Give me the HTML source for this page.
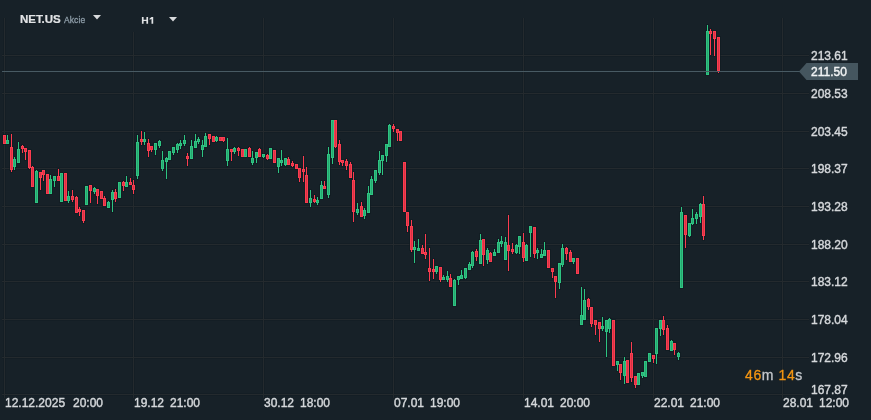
<!DOCTYPE html>
<html><head><meta charset="utf-8"><style>
html,body{margin:0;padding:0;}
.pl,.tl,.hdr{will-change:transform;}
body{width:871px;height:420px;overflow:hidden;background:#172128;position:relative;font-family:"Liberation Sans",sans-serif;}
.pl{position:absolute;left:811px;font-size:12px;line-height:16px;color:#d5d8db;white-space:nowrap;-webkit-text-stroke:0.4px #d5d8db;}
.pl.cur{color:#f2f4f5;-webkit-text-stroke:0.4px #f2f4f5;}
.tl{position:absolute;top:395px;font-size:12px;line-height:16px;color:#d5d8db;white-space:nowrap;-webkit-text-stroke:0.4px #d5d8db;}
.tm{margin-left:7px;}
.hdr{position:absolute;white-space:nowrap;}
</style></head><body>
<svg width="871" height="420" viewBox="0 0 871 420" style="position:absolute;left:0;top:0" shape-rendering="crispEdges">
<rect x="3" y="18" width="3" height="380" fill="#111c22" opacity="0.5"/><rect x="132" y="18" width="3" height="380" fill="#111c22" opacity="0.5"/><rect x="262" y="18" width="3" height="380" fill="#111c22" opacity="0.5"/><rect x="392" y="18" width="3" height="380" fill="#111c22" opacity="0.5"/><rect x="522" y="18" width="3" height="380" fill="#111c22" opacity="0.5"/><rect x="652" y="18" width="3" height="380" fill="#111c22" opacity="0.5"/><rect x="781" y="18" width="3" height="380" fill="#111c22" opacity="0.5"/><rect x="2" y="54" width="807" height="3" fill="#111c22" opacity="0.5"/><rect x="2" y="92" width="807" height="3" fill="#111c22" opacity="0.5"/><rect x="2" y="130" width="807" height="3" fill="#111c22" opacity="0.5"/><rect x="2" y="167" width="807" height="3" fill="#111c22" opacity="0.5"/><rect x="2" y="205" width="807" height="3" fill="#111c22" opacity="0.5"/><rect x="2" y="243" width="807" height="3" fill="#111c22" opacity="0.5"/><rect x="2" y="280" width="807" height="3" fill="#111c22" opacity="0.5"/><rect x="2" y="318" width="807" height="3" fill="#111c22" opacity="0.5"/><rect x="2" y="356" width="807" height="3" fill="#111c22" opacity="0.5"/><rect x="2" y="393" width="801" height="3" fill="#111c22" opacity="0.5"/><rect x="4" y="18" width="1" height="380" fill="#242a2e"/><rect x="133" y="18" width="1" height="380" fill="#242a2e"/><rect x="263" y="18" width="1" height="380" fill="#242a2e"/><rect x="393" y="18" width="1" height="380" fill="#242a2e"/><rect x="523" y="18" width="1" height="380" fill="#242a2e"/><rect x="653" y="18" width="1" height="380" fill="#242a2e"/><rect x="782" y="18" width="1" height="380" fill="#242a2e"/><rect x="2" y="55" width="807" height="1" fill="#242a2e"/><rect x="2" y="93" width="807" height="1" fill="#242a2e"/><rect x="2" y="131" width="807" height="1" fill="#242a2e"/><rect x="2" y="168" width="807" height="1" fill="#242a2e"/><rect x="2" y="206" width="807" height="1" fill="#242a2e"/><rect x="2" y="244" width="807" height="1" fill="#242a2e"/><rect x="2" y="281" width="807" height="1" fill="#242a2e"/><rect x="2" y="319" width="807" height="1" fill="#242a2e"/><rect x="2" y="357" width="807" height="1" fill="#242a2e"/><rect x="2" y="394" width="801" height="1" fill="#242a2e"/>
<rect x="10" y="0" width="180" height="32" fill="#172128"/>
<g fill="#0f1b21" opacity="0.6"><rect x="2" y="134" width="5" height="11"/><rect x="3" y="134" width="3" height="11"/><rect x="5" y="139" width="5" height="6"/><rect x="6" y="134" width="3" height="11"/><rect x="9" y="146" width="5" height="25"/><rect x="10" y="133" width="3" height="40"/><rect x="12" y="158" width="5" height="10"/><rect x="13" y="156" width="3" height="15"/><rect x="16" y="148" width="5" height="16"/><rect x="17" y="141" width="3" height="23"/><rect x="20" y="145" width="5" height="5"/><rect x="21" y="144" width="3" height="10"/><rect x="23" y="147" width="5" height="6"/><rect x="24" y="147" width="3" height="14"/><rect x="27" y="149" width="5" height="20"/><rect x="28" y="149" width="3" height="21"/><rect x="30" y="166" width="5" height="22"/><rect x="31" y="165" width="3" height="23"/><rect x="34" y="170" width="5" height="34"/><rect x="35" y="169" width="3" height="35"/><rect x="38" y="171" width="5" height="8"/><rect x="39" y="171" width="3" height="20"/><rect x="41" y="169" width="5" height="7"/><rect x="42" y="169" width="3" height="13"/><rect x="45" y="173" width="5" height="22"/><rect x="46" y="173" width="3" height="22"/><rect x="48" y="178" width="5" height="17"/><rect x="49" y="174" width="3" height="21"/><rect x="52" y="175" width="5" height="7"/><rect x="53" y="175" width="3" height="13"/><rect x="56" y="175" width="5" height="7"/><rect x="57" y="168" width="3" height="14"/><rect x="59" y="172" width="5" height="31"/><rect x="60" y="172" width="3" height="31"/><rect x="63" y="172" width="5" height="30"/><rect x="64" y="172" width="3" height="30"/><rect x="66" y="195" width="5" height="7"/><rect x="67" y="190" width="3" height="14"/><rect x="70" y="195" width="5" height="6"/><rect x="71" y="189" width="3" height="14"/><rect x="74" y="196" width="5" height="18"/><rect x="75" y="195" width="3" height="19"/><rect x="77" y="208" width="5" height="5"/><rect x="78" y="206" width="3" height="11"/><rect x="81" y="209" width="5" height="13"/><rect x="82" y="209" width="3" height="15"/><rect x="84" y="185" width="5" height="21"/><rect x="85" y="185" width="3" height="21"/><rect x="88" y="184" width="5" height="8"/><rect x="89" y="184" width="3" height="20"/><rect x="92" y="187" width="5" height="6"/><rect x="93" y="186" width="3" height="9"/><rect x="95" y="188" width="5" height="9"/><rect x="96" y="188" width="3" height="17"/><rect x="99" y="190" width="5" height="10"/><rect x="100" y="190" width="3" height="10"/><rect x="102" y="197" width="5" height="10"/><rect x="103" y="195" width="3" height="12"/><rect x="106" y="201" width="5" height="8"/><rect x="107" y="200" width="3" height="9"/><rect x="110" y="191" width="5" height="10"/><rect x="111" y="189" width="3" height="24"/><rect x="113" y="191" width="5" height="9"/><rect x="114" y="188" width="3" height="15"/><rect x="117" y="181" width="5" height="18"/><rect x="118" y="181" width="3" height="18"/><rect x="121" y="181" width="5" height="6"/><rect x="122" y="180" width="3" height="12"/><rect x="124" y="181" width="5" height="7"/><rect x="125" y="175" width="3" height="13"/><rect x="128" y="181" width="5" height="5"/><rect x="129" y="177" width="3" height="9"/><rect x="131" y="184" width="5" height="7"/><rect x="132" y="179" width="3" height="16"/><rect x="135" y="141" width="5" height="36"/><rect x="136" y="134" width="3" height="46"/><rect x="139" y="138" width="5" height="5"/><rect x="140" y="130" width="3" height="16"/><rect x="142" y="138" width="5" height="5"/><rect x="143" y="131" width="3" height="15"/><rect x="146" y="142" width="5" height="10"/><rect x="147" y="138" width="3" height="20"/><rect x="149" y="145" width="5" height="6"/><rect x="150" y="145" width="3" height="8"/><rect x="153" y="142" width="5" height="9"/><rect x="154" y="142" width="3" height="14"/><rect x="157" y="140" width="5" height="7"/><rect x="158" y="139" width="3" height="10"/><rect x="160" y="159" width="5" height="11"/><rect x="161" y="150" width="3" height="22"/><rect x="164" y="157" width="5" height="6"/><rect x="165" y="156" width="3" height="24"/><rect x="167" y="150" width="5" height="11"/><rect x="168" y="150" width="3" height="11"/><rect x="171" y="146" width="5" height="8"/><rect x="172" y="146" width="3" height="10"/><rect x="175" y="143" width="5" height="8"/><rect x="176" y="142" width="3" height="12"/><rect x="178" y="142" width="5" height="5"/><rect x="179" y="139" width="3" height="11"/><rect x="182" y="139" width="5" height="6"/><rect x="183" y="134" width="3" height="13"/><rect x="185" y="155" width="5" height="5"/><rect x="186" y="152" width="3" height="15"/><rect x="189" y="145" width="5" height="15"/><rect x="190" y="139" width="3" height="21"/><rect x="193" y="140" width="5" height="9"/><rect x="194" y="133" width="3" height="16"/><rect x="196" y="138" width="5" height="5"/><rect x="197" y="136" width="3" height="9"/><rect x="200" y="144" width="5" height="7"/><rect x="201" y="139" width="3" height="19"/><rect x="203" y="135" width="5" height="13"/><rect x="204" y="132" width="3" height="16"/><rect x="207" y="133" width="5" height="7"/><rect x="208" y="133" width="3" height="13"/><rect x="211" y="135" width="5" height="8"/><rect x="212" y="135" width="3" height="8"/><rect x="214" y="136" width="5" height="6"/><rect x="215" y="135" width="3" height="8"/><rect x="218" y="136" width="5" height="6"/><rect x="219" y="136" width="3" height="6"/><rect x="221" y="136" width="5" height="6"/><rect x="222" y="136" width="3" height="7"/><rect x="225" y="148" width="5" height="14"/><rect x="226" y="137" width="3" height="30"/><rect x="229" y="148" width="5" height="5"/><rect x="230" y="148" width="3" height="14"/><rect x="232" y="147" width="5" height="6"/><rect x="233" y="146" width="3" height="9"/><rect x="236" y="147" width="5" height="5"/><rect x="237" y="146" width="3" height="11"/><rect x="240" y="148" width="5" height="10"/><rect x="241" y="148" width="3" height="10"/><rect x="243" y="148" width="5" height="10"/><rect x="244" y="148" width="3" height="10"/><rect x="247" y="147" width="5" height="11"/><rect x="248" y="146" width="3" height="12"/><rect x="250" y="157" width="5" height="7"/><rect x="251" y="150" width="3" height="16"/><rect x="254" y="151" width="5" height="8"/><rect x="255" y="151" width="3" height="13"/><rect x="257" y="148" width="5" height="10"/><rect x="258" y="147" width="3" height="11"/><rect x="261" y="153" width="5" height="5"/><rect x="262" y="153" width="3" height="6"/><rect x="265" y="154" width="5" height="6"/><rect x="266" y="153" width="3" height="8"/><rect x="268" y="147" width="5" height="13"/><rect x="269" y="147" width="3" height="13"/><rect x="272" y="149" width="5" height="15"/><rect x="273" y="149" width="3" height="15"/><rect x="276" y="157" width="5" height="11"/><rect x="277" y="157" width="3" height="17"/><rect x="279" y="159" width="5" height="5"/><rect x="280" y="149" width="3" height="18"/><rect x="283" y="157" width="5" height="9"/><rect x="284" y="157" width="3" height="10"/><rect x="286" y="158" width="5" height="8"/><rect x="287" y="156" width="3" height="10"/><rect x="290" y="162" width="5" height="5"/><rect x="291" y="160" width="3" height="8"/><rect x="294" y="163" width="5" height="7"/><rect x="295" y="163" width="3" height="7"/><rect x="297" y="167" width="5" height="12"/><rect x="298" y="167" width="3" height="16"/><rect x="301" y="168" width="5" height="5"/><rect x="302" y="155" width="3" height="28"/><rect x="304" y="174" width="5" height="30"/><rect x="305" y="166" width="3" height="38"/><rect x="308" y="197" width="5" height="7"/><rect x="309" y="189" width="3" height="19"/><rect x="312" y="198" width="5" height="5"/><rect x="313" y="194" width="3" height="10"/><rect x="315" y="199" width="5" height="5"/><rect x="316" y="196" width="3" height="10"/><rect x="319" y="184" width="5" height="16"/><rect x="320" y="180" width="3" height="20"/><rect x="322" y="185" width="5" height="5"/><rect x="323" y="180" width="3" height="10"/><rect x="326" y="153" width="5" height="43"/><rect x="327" y="146" width="3" height="53"/><rect x="330" y="119" width="5" height="40"/><rect x="331" y="119" width="3" height="46"/><rect x="333" y="119" width="5" height="29"/><rect x="334" y="119" width="3" height="30"/><rect x="337" y="143" width="5" height="20"/><rect x="338" y="139" width="3" height="27"/><rect x="340" y="159" width="5" height="5"/><rect x="341" y="159" width="3" height="8"/><rect x="344" y="160" width="5" height="7"/><rect x="345" y="158" width="3" height="13"/><rect x="348" y="163" width="5" height="16"/><rect x="349" y="161" width="3" height="18"/><rect x="351" y="179" width="5" height="34"/><rect x="352" y="171" width="3" height="52"/><rect x="355" y="208" width="5" height="6"/><rect x="356" y="202" width="3" height="14"/><rect x="359" y="205" width="5" height="13"/><rect x="360" y="201" width="3" height="17"/><rect x="362" y="209" width="5" height="8"/><rect x="363" y="207" width="3" height="13"/><rect x="366" y="192" width="5" height="22"/><rect x="367" y="185" width="3" height="29"/><rect x="369" y="178" width="5" height="18"/><rect x="370" y="175" width="3" height="21"/><rect x="373" y="169" width="5" height="13"/><rect x="374" y="169" width="3" height="15"/><rect x="377" y="159" width="5" height="15"/><rect x="378" y="150" width="3" height="26"/><rect x="380" y="154" width="5" height="8"/><rect x="381" y="154" width="3" height="22"/><rect x="384" y="143" width="5" height="14"/><rect x="385" y="143" width="3" height="20"/><rect x="387" y="124" width="5" height="24"/><rect x="388" y="123" width="3" height="25"/><rect x="391" y="125" width="5" height="5"/><rect x="392" y="123" width="3" height="10"/><rect x="395" y="128" width="5" height="6"/><rect x="396" y="128" width="3" height="14"/><rect x="398" y="130" width="5" height="12"/><rect x="399" y="130" width="3" height="12"/><rect x="402" y="161" width="5" height="52"/><rect x="403" y="161" width="3" height="52"/><rect x="405" y="211" width="5" height="16"/><rect x="406" y="211" width="3" height="22"/><rect x="409" y="225" width="5" height="26"/><rect x="410" y="219" width="3" height="34"/><rect x="412" y="246" width="5" height="5"/><rect x="413" y="240" width="3" height="24"/><rect x="416" y="247" width="5" height="5"/><rect x="417" y="238" width="3" height="14"/><rect x="420" y="247" width="5" height="8"/><rect x="421" y="244" width="3" height="11"/><rect x="423" y="251" width="5" height="5"/><rect x="424" y="233" width="3" height="27"/><rect x="427" y="267" width="5" height="6"/><rect x="428" y="247" width="3" height="35"/><rect x="431" y="268" width="5" height="5"/><rect x="432" y="258" width="3" height="22"/><rect x="434" y="265" width="5" height="8"/><rect x="435" y="265" width="3" height="10"/><rect x="438" y="266" width="5" height="15"/><rect x="439" y="266" width="3" height="17"/><rect x="441" y="276" width="5" height="5"/><rect x="442" y="274" width="3" height="7"/><rect x="445" y="275" width="5" height="6"/><rect x="446" y="270" width="3" height="13"/><rect x="448" y="277" width="5" height="11"/><rect x="449" y="273" width="3" height="15"/><rect x="452" y="279" width="5" height="28"/><rect x="453" y="278" width="3" height="29"/><rect x="456" y="275" width="5" height="6"/><rect x="457" y="275" width="3" height="11"/><rect x="459" y="274" width="5" height="6"/><rect x="460" y="269" width="3" height="11"/><rect x="463" y="267" width="5" height="12"/><rect x="464" y="267" width="3" height="13"/><rect x="467" y="263" width="5" height="8"/><rect x="468" y="261" width="3" height="10"/><rect x="470" y="251" width="5" height="16"/><rect x="471" y="250" width="3" height="19"/><rect x="474" y="250" width="5" height="8"/><rect x="475" y="248" width="3" height="14"/><rect x="478" y="239" width="5" height="26"/><rect x="479" y="233" width="3" height="32"/><rect x="481" y="238" width="5" height="18"/><rect x="482" y="238" width="3" height="29"/><rect x="485" y="249" width="5" height="12"/><rect x="486" y="247" width="3" height="18"/><rect x="488" y="252" width="5" height="11"/><rect x="489" y="251" width="3" height="12"/><rect x="492" y="251" width="5" height="6"/><rect x="493" y="248" width="3" height="9"/><rect x="496" y="241" width="5" height="13"/><rect x="497" y="238" width="3" height="16"/><rect x="499" y="240" width="5" height="5"/><rect x="500" y="235" width="3" height="13"/><rect x="503" y="241" width="5" height="20"/><rect x="504" y="236" width="3" height="25"/><rect x="506" y="244" width="5" height="8"/><rect x="507" y="214" width="3" height="58"/><rect x="510" y="248" width="5" height="5"/><rect x="511" y="242" width="3" height="13"/><rect x="514" y="244" width="5" height="10"/><rect x="515" y="243" width="3" height="12"/><rect x="517" y="235" width="5" height="13"/><rect x="518" y="235" width="3" height="20"/><rect x="521" y="241" width="5" height="18"/><rect x="522" y="232" width="3" height="31"/><rect x="524" y="244" width="5" height="18"/><rect x="525" y="243" width="3" height="19"/><rect x="528" y="225" width="5" height="9"/><rect x="529" y="225" width="3" height="33"/><rect x="532" y="226" width="5" height="29"/><rect x="533" y="226" width="3" height="33"/><rect x="535" y="249" width="5" height="5"/><rect x="536" y="247" width="3" height="13"/><rect x="539" y="253" width="5" height="6"/><rect x="540" y="248" width="3" height="11"/><rect x="542" y="249" width="5" height="8"/><rect x="543" y="241" width="3" height="16"/><rect x="546" y="249" width="5" height="20"/><rect x="547" y="249" width="3" height="20"/><rect x="550" y="267" width="5" height="6"/><rect x="551" y="267" width="3" height="12"/><rect x="553" y="275" width="5" height="8"/><rect x="554" y="275" width="3" height="24"/><rect x="557" y="262" width="5" height="22"/><rect x="558" y="262" width="3" height="28"/><rect x="560" y="247" width="5" height="19"/><rect x="561" y="243" width="3" height="25"/><rect x="564" y="247" width="5" height="8"/><rect x="565" y="246" width="3" height="15"/><rect x="568" y="251" width="5" height="12"/><rect x="569" y="249" width="3" height="14"/><rect x="571" y="257" width="5" height="6"/><rect x="572" y="257" width="3" height="8"/><rect x="575" y="257" width="5" height="18"/><rect x="576" y="257" width="3" height="18"/><rect x="579" y="314" width="5" height="12"/><rect x="580" y="286" width="3" height="40"/><rect x="582" y="299" width="5" height="22"/><rect x="583" y="288" width="3" height="33"/><rect x="586" y="298" width="5" height="10"/><rect x="587" y="297" width="3" height="14"/><rect x="589" y="306" width="5" height="19"/><rect x="590" y="306" width="3" height="22"/><rect x="593" y="319" width="5" height="7"/><rect x="594" y="319" width="3" height="17"/><rect x="597" y="321" width="5" height="9"/><rect x="598" y="321" width="3" height="22"/><rect x="600" y="325" width="5" height="5"/><rect x="601" y="316" width="3" height="16"/><rect x="604" y="319" width="5" height="14"/><rect x="605" y="319" width="3" height="39"/><rect x="607" y="318" width="5" height="12"/><rect x="608" y="317" width="3" height="17"/><rect x="611" y="319" width="5" height="48"/><rect x="612" y="319" width="3" height="48"/><rect x="615" y="360" width="5" height="6"/><rect x="616" y="360" width="3" height="12"/><rect x="618" y="363" width="5" height="11"/><rect x="619" y="363" width="3" height="18"/><rect x="622" y="360" width="5" height="17"/><rect x="623" y="356" width="3" height="29"/><rect x="625" y="359" width="5" height="25"/><rect x="626" y="359" width="3" height="25"/><rect x="629" y="352" width="5" height="27"/><rect x="630" y="341" width="3" height="42"/><rect x="633" y="375" width="5" height="11"/><rect x="634" y="375" width="3" height="14"/><rect x="636" y="372" width="5" height="14"/><rect x="637" y="372" width="3" height="14"/><rect x="640" y="371" width="5" height="6"/><rect x="641" y="371" width="3" height="8"/><rect x="643" y="360" width="5" height="18"/><rect x="644" y="360" width="3" height="18"/><rect x="647" y="352" width="5" height="11"/><rect x="648" y="352" width="3" height="11"/><rect x="651" y="354" width="5" height="6"/><rect x="652" y="354" width="3" height="10"/><rect x="654" y="327" width="5" height="28"/><rect x="655" y="327" width="3" height="38"/><rect x="658" y="319" width="5" height="11"/><rect x="659" y="319" width="3" height="18"/><rect x="661" y="319" width="5" height="12"/><rect x="662" y="315" width="3" height="21"/><rect x="665" y="327" width="5" height="24"/><rect x="666" y="324" width="3" height="27"/><rect x="669" y="340" width="5" height="12"/><rect x="670" y="339" width="3" height="13"/><rect x="672" y="342" width="5" height="9"/><rect x="673" y="342" width="3" height="14"/><rect x="676" y="352" width="5" height="6"/><rect x="677" y="351" width="3" height="10"/><rect x="679" y="211" width="5" height="78"/><rect x="680" y="206" width="3" height="83"/><rect x="683" y="214" width="5" height="22"/><rect x="684" y="214" width="3" height="35"/><rect x="687" y="222" width="5" height="15"/><rect x="688" y="222" width="3" height="16"/><rect x="690" y="217" width="5" height="8"/><rect x="691" y="208" width="3" height="18"/><rect x="694" y="213" width="5" height="7"/><rect x="695" y="211" width="3" height="14"/><rect x="698" y="203" width="5" height="15"/><rect x="699" y="202" width="3" height="22"/><rect x="701" y="203" width="5" height="34"/><rect x="702" y="195" width="3" height="46"/><rect x="705" y="30" width="5" height="46"/><rect x="706" y="24" width="3" height="52"/><rect x="708" y="30" width="5" height="5"/><rect x="709" y="28" width="3" height="28"/><rect x="712" y="30" width="5" height="10"/><rect x="713" y="30" width="3" height="27"/><rect x="716" y="36" width="5" height="36"/><rect x="717" y="36" width="3" height="38"/></g>
<rect x="4" y="135" width="1" height="9" fill="#fc3c50"/><rect x="7" y="135" width="1" height="9" fill="#2ec482"/><rect x="11" y="134" width="1" height="38" fill="#fc3c50"/><rect x="14" y="157" width="1" height="13" fill="#2ec482"/><rect x="18" y="142" width="1" height="21" fill="#2ec482"/><rect x="22" y="145" width="1" height="8" fill="#fc3c50"/><rect x="25" y="148" width="1" height="12" fill="#fc3c50"/><rect x="29" y="150" width="1" height="19" fill="#fc3c50"/><rect x="32" y="166" width="1" height="21" fill="#fc3c50"/><rect x="36" y="170" width="1" height="33" fill="#2ec482"/><rect x="40" y="172" width="1" height="18" fill="#fc3c50"/><rect x="43" y="170" width="1" height="11" fill="#fc3c50"/><rect x="47" y="174" width="1" height="20" fill="#fc3c50"/><rect x="50" y="175" width="1" height="19" fill="#2ec482"/><rect x="54" y="176" width="1" height="11" fill="#2ec482"/><rect x="58" y="169" width="1" height="12" fill="#fc3c50"/><rect x="61" y="173" width="1" height="29" fill="#2ec482"/><rect x="65" y="173" width="1" height="28" fill="#fc3c50"/><rect x="68" y="191" width="1" height="12" fill="#2ec482"/><rect x="72" y="190" width="1" height="12" fill="#fc3c50"/><rect x="76" y="196" width="1" height="17" fill="#fc3c50"/><rect x="79" y="207" width="1" height="9" fill="#fc3c50"/><rect x="83" y="210" width="1" height="13" fill="#fc3c50"/><rect x="86" y="186" width="1" height="19" fill="#2ec482"/><rect x="90" y="185" width="1" height="18" fill="#fc3c50"/><rect x="94" y="187" width="1" height="7" fill="#2ec482"/><rect x="97" y="189" width="1" height="15" fill="#fc3c50"/><rect x="101" y="191" width="1" height="8" fill="#fc3c50"/><rect x="104" y="196" width="1" height="10" fill="#fc3c50"/><rect x="108" y="201" width="1" height="7" fill="#2ec482"/><rect x="112" y="190" width="1" height="22" fill="#2ec482"/><rect x="115" y="189" width="1" height="13" fill="#fc3c50"/><rect x="119" y="182" width="1" height="16" fill="#2ec482"/><rect x="123" y="181" width="1" height="10" fill="#fc3c50"/><rect x="126" y="176" width="1" height="11" fill="#2ec482"/><rect x="130" y="178" width="1" height="7" fill="#fc3c50"/><rect x="133" y="180" width="1" height="14" fill="#fc3c50"/><rect x="137" y="135" width="1" height="44" fill="#2ec482"/><rect x="141" y="131" width="1" height="14" fill="#fc3c50"/><rect x="144" y="132" width="1" height="13" fill="#2ec482"/><rect x="148" y="139" width="1" height="18" fill="#fc3c50"/><rect x="151" y="146" width="1" height="6" fill="#fc3c50"/><rect x="155" y="143" width="1" height="12" fill="#2ec482"/><rect x="159" y="140" width="1" height="8" fill="#2ec482"/><rect x="162" y="151" width="1" height="20" fill="#2ec482"/><rect x="166" y="157" width="1" height="22" fill="#2ec482"/><rect x="169" y="151" width="1" height="9" fill="#2ec482"/><rect x="173" y="147" width="1" height="8" fill="#2ec482"/><rect x="177" y="143" width="1" height="10" fill="#2ec482"/><rect x="180" y="140" width="1" height="9" fill="#2ec482"/><rect x="184" y="135" width="1" height="11" fill="#2ec482"/><rect x="187" y="153" width="1" height="13" fill="#fc3c50"/><rect x="191" y="140" width="1" height="19" fill="#2ec482"/><rect x="195" y="134" width="1" height="14" fill="#2ec482"/><rect x="198" y="137" width="1" height="7" fill="#2ec482"/><rect x="202" y="140" width="1" height="17" fill="#2ec482"/><rect x="205" y="133" width="1" height="14" fill="#2ec482"/><rect x="209" y="134" width="1" height="11" fill="#fc3c50"/><rect x="213" y="136" width="1" height="6" fill="#fc3c50"/><rect x="216" y="136" width="1" height="6" fill="#2ec482"/><rect x="220" y="137" width="1" height="4" fill="#fc3c50"/><rect x="223" y="137" width="1" height="5" fill="#fc3c50"/><rect x="227" y="138" width="1" height="28" fill="#2ec482"/><rect x="231" y="149" width="1" height="12" fill="#fc3c50"/><rect x="234" y="147" width="1" height="7" fill="#2ec482"/><rect x="238" y="147" width="1" height="9" fill="#fc3c50"/><rect x="242" y="149" width="1" height="8" fill="#fc3c50"/><rect x="245" y="149" width="1" height="8" fill="#2ec482"/><rect x="249" y="147" width="1" height="10" fill="#fc3c50"/><rect x="252" y="151" width="1" height="14" fill="#2ec482"/><rect x="256" y="152" width="1" height="11" fill="#2ec482"/><rect x="259" y="148" width="1" height="9" fill="#fc3c50"/><rect x="263" y="154" width="1" height="4" fill="#2ec482"/><rect x="267" y="154" width="1" height="6" fill="#fc3c50"/><rect x="270" y="148" width="1" height="11" fill="#2ec482"/><rect x="274" y="150" width="1" height="13" fill="#fc3c50"/><rect x="278" y="158" width="1" height="15" fill="#2ec482"/><rect x="281" y="150" width="1" height="16" fill="#2ec482"/><rect x="285" y="158" width="1" height="8" fill="#2ec482"/><rect x="288" y="157" width="1" height="8" fill="#fc3c50"/><rect x="292" y="161" width="1" height="6" fill="#fc3c50"/><rect x="296" y="164" width="1" height="5" fill="#fc3c50"/><rect x="299" y="168" width="1" height="14" fill="#fc3c50"/><rect x="303" y="156" width="1" height="26" fill="#fc3c50"/><rect x="306" y="167" width="1" height="36" fill="#fc3c50"/><rect x="310" y="190" width="1" height="17" fill="#2ec482"/><rect x="314" y="195" width="1" height="8" fill="#fc3c50"/><rect x="317" y="197" width="1" height="8" fill="#2ec482"/><rect x="321" y="181" width="1" height="18" fill="#2ec482"/><rect x="324" y="181" width="1" height="8" fill="#fc3c50"/><rect x="328" y="147" width="1" height="51" fill="#2ec482"/><rect x="332" y="120" width="1" height="44" fill="#2ec482"/><rect x="335" y="120" width="1" height="28" fill="#fc3c50"/><rect x="339" y="140" width="1" height="25" fill="#fc3c50"/><rect x="342" y="160" width="1" height="6" fill="#fc3c50"/><rect x="346" y="159" width="1" height="11" fill="#fc3c50"/><rect x="350" y="162" width="1" height="16" fill="#fc3c50"/><rect x="353" y="172" width="1" height="50" fill="#fc3c50"/><rect x="357" y="203" width="1" height="12" fill="#2ec482"/><rect x="361" y="202" width="1" height="15" fill="#fc3c50"/><rect x="364" y="208" width="1" height="11" fill="#2ec482"/><rect x="368" y="186" width="1" height="27" fill="#2ec482"/><rect x="371" y="176" width="1" height="19" fill="#2ec482"/><rect x="375" y="170" width="1" height="13" fill="#2ec482"/><rect x="379" y="151" width="1" height="24" fill="#2ec482"/><rect x="382" y="155" width="1" height="20" fill="#2ec482"/><rect x="386" y="144" width="1" height="18" fill="#2ec482"/><rect x="389" y="124" width="1" height="23" fill="#2ec482"/><rect x="393" y="124" width="1" height="8" fill="#fc3c50"/><rect x="397" y="129" width="1" height="12" fill="#fc3c50"/><rect x="400" y="131" width="1" height="10" fill="#fc3c50"/><rect x="404" y="162" width="1" height="50" fill="#fc3c50"/><rect x="407" y="212" width="1" height="20" fill="#fc3c50"/><rect x="411" y="220" width="1" height="32" fill="#fc3c50"/><rect x="414" y="241" width="1" height="22" fill="#2ec482"/><rect x="418" y="239" width="1" height="12" fill="#2ec482"/><rect x="422" y="245" width="1" height="9" fill="#fc3c50"/><rect x="425" y="234" width="1" height="25" fill="#fc3c50"/><rect x="429" y="248" width="1" height="33" fill="#fc3c50"/><rect x="433" y="259" width="1" height="20" fill="#fc3c50"/><rect x="436" y="266" width="1" height="8" fill="#2ec482"/><rect x="440" y="267" width="1" height="15" fill="#fc3c50"/><rect x="443" y="275" width="1" height="5" fill="#2ec482"/><rect x="447" y="271" width="1" height="11" fill="#2ec482"/><rect x="450" y="274" width="1" height="13" fill="#fc3c50"/><rect x="454" y="279" width="1" height="27" fill="#2ec482"/><rect x="458" y="276" width="1" height="9" fill="#2ec482"/><rect x="461" y="270" width="1" height="9" fill="#2ec482"/><rect x="465" y="268" width="1" height="11" fill="#2ec482"/><rect x="469" y="262" width="1" height="8" fill="#2ec482"/><rect x="472" y="251" width="1" height="17" fill="#2ec482"/><rect x="476" y="249" width="1" height="12" fill="#fc3c50"/><rect x="480" y="234" width="1" height="30" fill="#2ec482"/><rect x="483" y="239" width="1" height="27" fill="#fc3c50"/><rect x="487" y="248" width="1" height="16" fill="#2ec482"/><rect x="490" y="252" width="1" height="10" fill="#fc3c50"/><rect x="494" y="249" width="1" height="7" fill="#2ec482"/><rect x="498" y="239" width="1" height="14" fill="#2ec482"/><rect x="501" y="236" width="1" height="11" fill="#2ec482"/><rect x="505" y="237" width="1" height="23" fill="#2ec482"/><rect x="508" y="215" width="1" height="56" fill="#fc3c50"/><rect x="512" y="243" width="1" height="11" fill="#fc3c50"/><rect x="516" y="244" width="1" height="10" fill="#2ec482"/><rect x="519" y="236" width="1" height="18" fill="#2ec482"/><rect x="523" y="233" width="1" height="29" fill="#fc3c50"/><rect x="526" y="244" width="1" height="17" fill="#2ec482"/><rect x="530" y="226" width="1" height="31" fill="#2ec482"/><rect x="534" y="227" width="1" height="31" fill="#fc3c50"/><rect x="537" y="248" width="1" height="11" fill="#2ec482"/><rect x="541" y="249" width="1" height="9" fill="#2ec482"/><rect x="544" y="242" width="1" height="14" fill="#2ec482"/><rect x="548" y="250" width="1" height="18" fill="#fc3c50"/><rect x="552" y="268" width="1" height="10" fill="#fc3c50"/><rect x="555" y="276" width="1" height="22" fill="#fc3c50"/><rect x="559" y="263" width="1" height="26" fill="#2ec482"/><rect x="562" y="244" width="1" height="23" fill="#2ec482"/><rect x="566" y="247" width="1" height="13" fill="#fc3c50"/><rect x="570" y="250" width="1" height="12" fill="#fc3c50"/><rect x="573" y="258" width="1" height="6" fill="#2ec482"/><rect x="577" y="258" width="1" height="16" fill="#fc3c50"/><rect x="581" y="287" width="1" height="38" fill="#2ec482"/><rect x="584" y="289" width="1" height="31" fill="#2ec482"/><rect x="588" y="298" width="1" height="12" fill="#fc3c50"/><rect x="591" y="307" width="1" height="20" fill="#fc3c50"/><rect x="595" y="320" width="1" height="15" fill="#fc3c50"/><rect x="599" y="322" width="1" height="20" fill="#fc3c50"/><rect x="602" y="317" width="1" height="14" fill="#2ec482"/><rect x="606" y="320" width="1" height="37" fill="#2ec482"/><rect x="609" y="318" width="1" height="15" fill="#2ec482"/><rect x="613" y="320" width="1" height="46" fill="#fc3c50"/><rect x="617" y="361" width="1" height="10" fill="#2ec482"/><rect x="620" y="364" width="1" height="16" fill="#fc3c50"/><rect x="624" y="357" width="1" height="27" fill="#2ec482"/><rect x="627" y="360" width="1" height="23" fill="#fc3c50"/><rect x="631" y="342" width="1" height="40" fill="#fc3c50"/><rect x="635" y="376" width="1" height="12" fill="#fc3c50"/><rect x="638" y="373" width="1" height="12" fill="#2ec482"/><rect x="642" y="372" width="1" height="6" fill="#2ec482"/><rect x="645" y="361" width="1" height="16" fill="#2ec482"/><rect x="649" y="353" width="1" height="9" fill="#2ec482"/><rect x="653" y="355" width="1" height="8" fill="#fc3c50"/><rect x="656" y="328" width="1" height="36" fill="#2ec482"/><rect x="660" y="320" width="1" height="16" fill="#2ec482"/><rect x="663" y="316" width="1" height="19" fill="#fc3c50"/><rect x="667" y="325" width="1" height="25" fill="#fc3c50"/><rect x="671" y="340" width="1" height="11" fill="#2ec482"/><rect x="674" y="343" width="1" height="12" fill="#fc3c50"/><rect x="678" y="352" width="1" height="8" fill="#2ec482"/><rect x="681" y="207" width="1" height="81" fill="#2ec482"/><rect x="685" y="215" width="1" height="33" fill="#fc3c50"/><rect x="689" y="223" width="1" height="14" fill="#2ec482"/><rect x="692" y="209" width="1" height="16" fill="#2ec482"/><rect x="696" y="212" width="1" height="12" fill="#2ec482"/><rect x="700" y="203" width="1" height="20" fill="#2ec482"/><rect x="703" y="196" width="1" height="44" fill="#fc3c50"/><rect x="707" y="25" width="1" height="50" fill="#2ec482"/><rect x="710" y="29" width="1" height="26" fill="#fc3c50"/><rect x="714" y="31" width="1" height="25" fill="#fc3c50"/><rect x="718" y="37" width="1" height="36" fill="#fc3c50"/>
<rect x="3" y="135" width="3" height="9" fill="#fc3c50"/><rect x="6" y="140" width="3" height="4" fill="#2ec482"/><rect x="10" y="147" width="3" height="23" fill="#fc3c50"/><rect x="13" y="159" width="3" height="8" fill="#2ec482"/><rect x="17" y="149" width="3" height="14" fill="#2ec482"/><rect x="21" y="146" width="3" height="3" fill="#fc3c50"/><rect x="24" y="148" width="3" height="4" fill="#fc3c50"/><rect x="28" y="150" width="3" height="18" fill="#fc3c50"/><rect x="31" y="167" width="3" height="20" fill="#fc3c50"/><rect x="35" y="171" width="3" height="32" fill="#2ec482"/><rect x="39" y="172" width="3" height="6" fill="#fc3c50"/><rect x="42" y="170" width="3" height="5" fill="#fc3c50"/><rect x="46" y="174" width="3" height="20" fill="#fc3c50"/><rect x="49" y="179" width="3" height="15" fill="#2ec482"/><rect x="53" y="176" width="3" height="5" fill="#2ec482"/><rect x="57" y="176" width="3" height="5" fill="#fc3c50"/><rect x="60" y="173" width="3" height="29" fill="#2ec482"/><rect x="64" y="173" width="3" height="28" fill="#fc3c50"/><rect x="67" y="196" width="3" height="5" fill="#2ec482"/><rect x="71" y="196" width="3" height="4" fill="#fc3c50"/><rect x="75" y="197" width="3" height="16" fill="#fc3c50"/><rect x="78" y="209" width="3" height="3" fill="#fc3c50"/><rect x="82" y="210" width="3" height="11" fill="#fc3c50"/><rect x="85" y="186" width="3" height="19" fill="#2ec482"/><rect x="89" y="185" width="3" height="6" fill="#fc3c50"/><rect x="93" y="188" width="3" height="4" fill="#2ec482"/><rect x="96" y="189" width="3" height="7" fill="#fc3c50"/><rect x="100" y="191" width="3" height="8" fill="#fc3c50"/><rect x="103" y="198" width="3" height="8" fill="#fc3c50"/><rect x="107" y="202" width="3" height="6" fill="#2ec482"/><rect x="111" y="192" width="3" height="8" fill="#2ec482"/><rect x="114" y="192" width="3" height="7" fill="#fc3c50"/><rect x="118" y="182" width="3" height="16" fill="#2ec482"/><rect x="122" y="182" width="3" height="4" fill="#fc3c50"/><rect x="125" y="182" width="3" height="5" fill="#2ec482"/><rect x="129" y="182" width="3" height="3" fill="#fc3c50"/><rect x="132" y="185" width="3" height="5" fill="#fc3c50"/><rect x="136" y="142" width="3" height="34" fill="#2ec482"/><rect x="140" y="139" width="3" height="3" fill="#fc3c50"/><rect x="143" y="139" width="3" height="3" fill="#2ec482"/><rect x="147" y="143" width="3" height="8" fill="#fc3c50"/><rect x="150" y="146" width="3" height="4" fill="#fc3c50"/><rect x="154" y="143" width="3" height="7" fill="#2ec482"/><rect x="158" y="141" width="3" height="5" fill="#2ec482"/><rect x="161" y="160" width="3" height="9" fill="#2ec482"/><rect x="165" y="158" width="3" height="4" fill="#2ec482"/><rect x="168" y="151" width="3" height="9" fill="#2ec482"/><rect x="172" y="147" width="3" height="6" fill="#2ec482"/><rect x="176" y="144" width="3" height="6" fill="#2ec482"/><rect x="179" y="143" width="3" height="3" fill="#2ec482"/><rect x="183" y="140" width="3" height="4" fill="#2ec482"/><rect x="186" y="156" width="3" height="3" fill="#fc3c50"/><rect x="190" y="146" width="3" height="13" fill="#2ec482"/><rect x="194" y="141" width="3" height="7" fill="#2ec482"/><rect x="197" y="139" width="3" height="3" fill="#2ec482"/><rect x="201" y="145" width="3" height="5" fill="#2ec482"/><rect x="204" y="136" width="3" height="11" fill="#2ec482"/><rect x="208" y="134" width="3" height="5" fill="#fc3c50"/><rect x="212" y="136" width="3" height="6" fill="#fc3c50"/><rect x="215" y="137" width="3" height="4" fill="#2ec482"/><rect x="219" y="137" width="3" height="4" fill="#fc3c50"/><rect x="222" y="137" width="3" height="4" fill="#fc3c50"/><rect x="226" y="149" width="3" height="12" fill="#2ec482"/><rect x="230" y="149" width="3" height="3" fill="#fc3c50"/><rect x="233" y="148" width="3" height="4" fill="#2ec482"/><rect x="237" y="148" width="3" height="3" fill="#fc3c50"/><rect x="241" y="149" width="3" height="8" fill="#fc3c50"/><rect x="244" y="149" width="3" height="8" fill="#2ec482"/><rect x="248" y="148" width="3" height="9" fill="#fc3c50"/><rect x="251" y="158" width="3" height="5" fill="#2ec482"/><rect x="255" y="152" width="3" height="6" fill="#2ec482"/><rect x="258" y="149" width="3" height="8" fill="#fc3c50"/><rect x="262" y="154" width="3" height="3" fill="#2ec482"/><rect x="266" y="155" width="3" height="4" fill="#fc3c50"/><rect x="269" y="148" width="3" height="11" fill="#2ec482"/><rect x="273" y="150" width="3" height="13" fill="#fc3c50"/><rect x="277" y="158" width="3" height="9" fill="#2ec482"/><rect x="280" y="160" width="3" height="3" fill="#2ec482"/><rect x="284" y="158" width="3" height="7" fill="#2ec482"/><rect x="287" y="159" width="3" height="6" fill="#fc3c50"/><rect x="291" y="163" width="3" height="3" fill="#fc3c50"/><rect x="295" y="164" width="3" height="5" fill="#fc3c50"/><rect x="298" y="168" width="3" height="10" fill="#fc3c50"/><rect x="302" y="169" width="3" height="3" fill="#fc3c50"/><rect x="305" y="175" width="3" height="28" fill="#fc3c50"/><rect x="309" y="198" width="3" height="5" fill="#2ec482"/><rect x="313" y="199" width="3" height="3" fill="#fc3c50"/><rect x="316" y="200" width="3" height="3" fill="#2ec482"/><rect x="320" y="185" width="3" height="14" fill="#2ec482"/><rect x="323" y="186" width="3" height="3" fill="#fc3c50"/><rect x="327" y="154" width="3" height="41" fill="#2ec482"/><rect x="331" y="120" width="3" height="38" fill="#2ec482"/><rect x="334" y="120" width="3" height="27" fill="#fc3c50"/><rect x="338" y="144" width="3" height="18" fill="#fc3c50"/><rect x="341" y="160" width="3" height="3" fill="#fc3c50"/><rect x="345" y="161" width="3" height="5" fill="#fc3c50"/><rect x="349" y="164" width="3" height="14" fill="#fc3c50"/><rect x="352" y="180" width="3" height="32" fill="#fc3c50"/><rect x="356" y="209" width="3" height="4" fill="#2ec482"/><rect x="360" y="206" width="3" height="11" fill="#fc3c50"/><rect x="363" y="210" width="3" height="6" fill="#2ec482"/><rect x="367" y="193" width="3" height="20" fill="#2ec482"/><rect x="370" y="179" width="3" height="16" fill="#2ec482"/><rect x="374" y="170" width="3" height="11" fill="#2ec482"/><rect x="378" y="160" width="3" height="13" fill="#2ec482"/><rect x="381" y="155" width="3" height="6" fill="#2ec482"/><rect x="385" y="144" width="3" height="12" fill="#2ec482"/><rect x="388" y="125" width="3" height="22" fill="#2ec482"/><rect x="392" y="126" width="3" height="3" fill="#fc3c50"/><rect x="396" y="129" width="3" height="4" fill="#fc3c50"/><rect x="399" y="131" width="3" height="10" fill="#fc3c50"/><rect x="403" y="162" width="3" height="50" fill="#fc3c50"/><rect x="406" y="212" width="3" height="14" fill="#fc3c50"/><rect x="410" y="226" width="3" height="24" fill="#fc3c50"/><rect x="413" y="247" width="3" height="3" fill="#2ec482"/><rect x="417" y="248" width="3" height="3" fill="#2ec482"/><rect x="421" y="248" width="3" height="6" fill="#fc3c50"/><rect x="424" y="252" width="3" height="3" fill="#fc3c50"/><rect x="428" y="268" width="3" height="4" fill="#fc3c50"/><rect x="432" y="269" width="3" height="3" fill="#fc3c50"/><rect x="435" y="266" width="3" height="6" fill="#2ec482"/><rect x="439" y="267" width="3" height="13" fill="#fc3c50"/><rect x="442" y="277" width="3" height="3" fill="#2ec482"/><rect x="446" y="276" width="3" height="4" fill="#2ec482"/><rect x="449" y="278" width="3" height="9" fill="#fc3c50"/><rect x="453" y="280" width="3" height="26" fill="#2ec482"/><rect x="457" y="276" width="3" height="4" fill="#2ec482"/><rect x="460" y="275" width="3" height="4" fill="#2ec482"/><rect x="464" y="268" width="3" height="10" fill="#2ec482"/><rect x="468" y="264" width="3" height="6" fill="#2ec482"/><rect x="471" y="252" width="3" height="14" fill="#2ec482"/><rect x="475" y="251" width="3" height="6" fill="#fc3c50"/><rect x="479" y="240" width="3" height="24" fill="#2ec482"/><rect x="482" y="239" width="3" height="16" fill="#fc3c50"/><rect x="486" y="250" width="3" height="10" fill="#2ec482"/><rect x="489" y="253" width="3" height="9" fill="#fc3c50"/><rect x="493" y="252" width="3" height="4" fill="#2ec482"/><rect x="497" y="242" width="3" height="11" fill="#2ec482"/><rect x="500" y="241" width="3" height="3" fill="#2ec482"/><rect x="504" y="242" width="3" height="18" fill="#2ec482"/><rect x="507" y="245" width="3" height="6" fill="#fc3c50"/><rect x="511" y="249" width="3" height="3" fill="#fc3c50"/><rect x="515" y="245" width="3" height="8" fill="#2ec482"/><rect x="518" y="236" width="3" height="11" fill="#2ec482"/><rect x="522" y="242" width="3" height="16" fill="#fc3c50"/><rect x="525" y="245" width="3" height="16" fill="#2ec482"/><rect x="529" y="226" width="3" height="7" fill="#2ec482"/><rect x="533" y="227" width="3" height="27" fill="#fc3c50"/><rect x="536" y="250" width="3" height="3" fill="#2ec482"/><rect x="540" y="254" width="3" height="4" fill="#2ec482"/><rect x="543" y="250" width="3" height="6" fill="#2ec482"/><rect x="547" y="250" width="3" height="18" fill="#fc3c50"/><rect x="551" y="268" width="3" height="4" fill="#fc3c50"/><rect x="554" y="276" width="3" height="6" fill="#fc3c50"/><rect x="558" y="263" width="3" height="20" fill="#2ec482"/><rect x="561" y="248" width="3" height="17" fill="#2ec482"/><rect x="565" y="248" width="3" height="6" fill="#fc3c50"/><rect x="569" y="252" width="3" height="10" fill="#fc3c50"/><rect x="572" y="258" width="3" height="4" fill="#2ec482"/><rect x="576" y="258" width="3" height="16" fill="#fc3c50"/><rect x="580" y="315" width="3" height="10" fill="#2ec482"/><rect x="583" y="300" width="3" height="20" fill="#2ec482"/><rect x="587" y="299" width="3" height="8" fill="#fc3c50"/><rect x="590" y="307" width="3" height="17" fill="#fc3c50"/><rect x="594" y="320" width="3" height="5" fill="#fc3c50"/><rect x="598" y="322" width="3" height="7" fill="#fc3c50"/><rect x="601" y="326" width="3" height="3" fill="#2ec482"/><rect x="605" y="320" width="3" height="12" fill="#2ec482"/><rect x="608" y="319" width="3" height="10" fill="#2ec482"/><rect x="612" y="320" width="3" height="46" fill="#fc3c50"/><rect x="616" y="361" width="3" height="4" fill="#2ec482"/><rect x="619" y="364" width="3" height="9" fill="#fc3c50"/><rect x="623" y="361" width="3" height="15" fill="#2ec482"/><rect x="626" y="360" width="3" height="23" fill="#fc3c50"/><rect x="630" y="353" width="3" height="25" fill="#fc3c50"/><rect x="634" y="376" width="3" height="9" fill="#fc3c50"/><rect x="637" y="373" width="3" height="12" fill="#2ec482"/><rect x="641" y="372" width="3" height="4" fill="#2ec482"/><rect x="644" y="361" width="3" height="16" fill="#2ec482"/><rect x="648" y="353" width="3" height="9" fill="#2ec482"/><rect x="652" y="355" width="3" height="4" fill="#fc3c50"/><rect x="655" y="328" width="3" height="26" fill="#2ec482"/><rect x="659" y="320" width="3" height="9" fill="#2ec482"/><rect x="662" y="320" width="3" height="10" fill="#fc3c50"/><rect x="666" y="328" width="3" height="22" fill="#fc3c50"/><rect x="670" y="341" width="3" height="10" fill="#2ec482"/><rect x="673" y="343" width="3" height="7" fill="#fc3c50"/><rect x="677" y="353" width="3" height="4" fill="#2ec482"/><rect x="680" y="212" width="3" height="76" fill="#2ec482"/><rect x="684" y="215" width="3" height="20" fill="#fc3c50"/><rect x="688" y="223" width="3" height="13" fill="#2ec482"/><rect x="691" y="218" width="3" height="6" fill="#2ec482"/><rect x="695" y="214" width="3" height="5" fill="#2ec482"/><rect x="699" y="204" width="3" height="13" fill="#2ec482"/><rect x="702" y="204" width="3" height="32" fill="#fc3c50"/><rect x="706" y="31" width="3" height="44" fill="#2ec482"/><rect x="709" y="31" width="3" height="3" fill="#fc3c50"/><rect x="713" y="31" width="3" height="8" fill="#fc3c50"/><rect x="717" y="37" width="3" height="34" fill="#fc3c50"/>
<g fill="#000" opacity="0.14"><rect x="4" y="136" width="1" height="7"/><rect x="7" y="141" width="1" height="2"/><rect x="11" y="148" width="1" height="21"/><rect x="14" y="160" width="1" height="6"/><rect x="18" y="150" width="1" height="12"/><rect x="22" y="147" width="1" height="1"/><rect x="25" y="149" width="1" height="2"/><rect x="29" y="151" width="1" height="16"/><rect x="32" y="168" width="1" height="18"/><rect x="36" y="172" width="1" height="30"/><rect x="40" y="173" width="1" height="4"/><rect x="43" y="171" width="1" height="3"/><rect x="47" y="175" width="1" height="18"/><rect x="50" y="180" width="1" height="13"/><rect x="54" y="177" width="1" height="3"/><rect x="58" y="177" width="1" height="3"/><rect x="61" y="174" width="1" height="27"/><rect x="65" y="174" width="1" height="26"/><rect x="68" y="197" width="1" height="3"/><rect x="72" y="197" width="1" height="2"/><rect x="76" y="198" width="1" height="14"/><rect x="79" y="210" width="1" height="1"/><rect x="83" y="211" width="1" height="9"/><rect x="86" y="187" width="1" height="17"/><rect x="90" y="186" width="1" height="4"/><rect x="94" y="189" width="1" height="2"/><rect x="97" y="190" width="1" height="5"/><rect x="101" y="192" width="1" height="6"/><rect x="104" y="199" width="1" height="6"/><rect x="108" y="203" width="1" height="4"/><rect x="112" y="193" width="1" height="6"/><rect x="115" y="193" width="1" height="5"/><rect x="119" y="183" width="1" height="14"/><rect x="123" y="183" width="1" height="2"/><rect x="126" y="183" width="1" height="3"/><rect x="130" y="183" width="1" height="1"/><rect x="133" y="186" width="1" height="3"/><rect x="137" y="143" width="1" height="32"/><rect x="141" y="140" width="1" height="1"/><rect x="144" y="140" width="1" height="1"/><rect x="148" y="144" width="1" height="6"/><rect x="151" y="147" width="1" height="2"/><rect x="155" y="144" width="1" height="5"/><rect x="159" y="142" width="1" height="3"/><rect x="162" y="161" width="1" height="7"/><rect x="166" y="159" width="1" height="2"/><rect x="169" y="152" width="1" height="7"/><rect x="173" y="148" width="1" height="4"/><rect x="177" y="145" width="1" height="4"/><rect x="180" y="144" width="1" height="1"/><rect x="184" y="141" width="1" height="2"/><rect x="187" y="157" width="1" height="1"/><rect x="191" y="147" width="1" height="11"/><rect x="195" y="142" width="1" height="5"/><rect x="198" y="140" width="1" height="1"/><rect x="202" y="146" width="1" height="3"/><rect x="205" y="137" width="1" height="9"/><rect x="209" y="135" width="1" height="3"/><rect x="213" y="137" width="1" height="4"/><rect x="216" y="138" width="1" height="2"/><rect x="220" y="138" width="1" height="2"/><rect x="223" y="138" width="1" height="2"/><rect x="227" y="150" width="1" height="10"/><rect x="231" y="150" width="1" height="1"/><rect x="234" y="149" width="1" height="2"/><rect x="238" y="149" width="1" height="1"/><rect x="242" y="150" width="1" height="6"/><rect x="245" y="150" width="1" height="6"/><rect x="249" y="149" width="1" height="7"/><rect x="252" y="159" width="1" height="3"/><rect x="256" y="153" width="1" height="4"/><rect x="259" y="150" width="1" height="6"/><rect x="263" y="155" width="1" height="1"/><rect x="267" y="156" width="1" height="2"/><rect x="270" y="149" width="1" height="9"/><rect x="274" y="151" width="1" height="11"/><rect x="278" y="159" width="1" height="7"/><rect x="281" y="161" width="1" height="1"/><rect x="285" y="159" width="1" height="5"/><rect x="288" y="160" width="1" height="4"/><rect x="292" y="164" width="1" height="1"/><rect x="296" y="165" width="1" height="3"/><rect x="299" y="169" width="1" height="8"/><rect x="303" y="170" width="1" height="1"/><rect x="306" y="176" width="1" height="26"/><rect x="310" y="199" width="1" height="3"/><rect x="314" y="200" width="1" height="1"/><rect x="317" y="201" width="1" height="1"/><rect x="321" y="186" width="1" height="12"/><rect x="324" y="187" width="1" height="1"/><rect x="328" y="155" width="1" height="39"/><rect x="332" y="121" width="1" height="36"/><rect x="335" y="121" width="1" height="25"/><rect x="339" y="145" width="1" height="16"/><rect x="342" y="161" width="1" height="1"/><rect x="346" y="162" width="1" height="3"/><rect x="350" y="165" width="1" height="12"/><rect x="353" y="181" width="1" height="30"/><rect x="357" y="210" width="1" height="2"/><rect x="361" y="207" width="1" height="9"/><rect x="364" y="211" width="1" height="4"/><rect x="368" y="194" width="1" height="18"/><rect x="371" y="180" width="1" height="14"/><rect x="375" y="171" width="1" height="9"/><rect x="379" y="161" width="1" height="11"/><rect x="382" y="156" width="1" height="4"/><rect x="386" y="145" width="1" height="10"/><rect x="389" y="126" width="1" height="20"/><rect x="393" y="127" width="1" height="1"/><rect x="397" y="130" width="1" height="2"/><rect x="400" y="132" width="1" height="8"/><rect x="404" y="163" width="1" height="48"/><rect x="407" y="213" width="1" height="12"/><rect x="411" y="227" width="1" height="22"/><rect x="414" y="248" width="1" height="1"/><rect x="418" y="249" width="1" height="1"/><rect x="422" y="249" width="1" height="4"/><rect x="425" y="253" width="1" height="1"/><rect x="429" y="269" width="1" height="2"/><rect x="433" y="270" width="1" height="1"/><rect x="436" y="267" width="1" height="4"/><rect x="440" y="268" width="1" height="11"/><rect x="443" y="278" width="1" height="1"/><rect x="447" y="277" width="1" height="2"/><rect x="450" y="279" width="1" height="7"/><rect x="454" y="281" width="1" height="24"/><rect x="458" y="277" width="1" height="2"/><rect x="461" y="276" width="1" height="2"/><rect x="465" y="269" width="1" height="8"/><rect x="469" y="265" width="1" height="4"/><rect x="472" y="253" width="1" height="12"/><rect x="476" y="252" width="1" height="4"/><rect x="480" y="241" width="1" height="22"/><rect x="483" y="240" width="1" height="14"/><rect x="487" y="251" width="1" height="8"/><rect x="490" y="254" width="1" height="7"/><rect x="494" y="253" width="1" height="2"/><rect x="498" y="243" width="1" height="9"/><rect x="501" y="242" width="1" height="1"/><rect x="505" y="243" width="1" height="16"/><rect x="508" y="246" width="1" height="4"/><rect x="512" y="250" width="1" height="1"/><rect x="516" y="246" width="1" height="6"/><rect x="519" y="237" width="1" height="9"/><rect x="523" y="243" width="1" height="14"/><rect x="526" y="246" width="1" height="14"/><rect x="530" y="227" width="1" height="5"/><rect x="534" y="228" width="1" height="25"/><rect x="537" y="251" width="1" height="1"/><rect x="541" y="255" width="1" height="2"/><rect x="544" y="251" width="1" height="4"/><rect x="548" y="251" width="1" height="16"/><rect x="552" y="269" width="1" height="2"/><rect x="555" y="277" width="1" height="4"/><rect x="559" y="264" width="1" height="18"/><rect x="562" y="249" width="1" height="15"/><rect x="566" y="249" width="1" height="4"/><rect x="570" y="253" width="1" height="8"/><rect x="573" y="259" width="1" height="2"/><rect x="577" y="259" width="1" height="14"/><rect x="581" y="316" width="1" height="8"/><rect x="584" y="301" width="1" height="18"/><rect x="588" y="300" width="1" height="6"/><rect x="591" y="308" width="1" height="15"/><rect x="595" y="321" width="1" height="3"/><rect x="599" y="323" width="1" height="5"/><rect x="602" y="327" width="1" height="1"/><rect x="606" y="321" width="1" height="10"/><rect x="609" y="320" width="1" height="8"/><rect x="613" y="321" width="1" height="44"/><rect x="617" y="362" width="1" height="2"/><rect x="620" y="365" width="1" height="7"/><rect x="624" y="362" width="1" height="13"/><rect x="627" y="361" width="1" height="21"/><rect x="631" y="354" width="1" height="23"/><rect x="635" y="377" width="1" height="7"/><rect x="638" y="374" width="1" height="10"/><rect x="642" y="373" width="1" height="2"/><rect x="645" y="362" width="1" height="14"/><rect x="649" y="354" width="1" height="7"/><rect x="653" y="356" width="1" height="2"/><rect x="656" y="329" width="1" height="24"/><rect x="660" y="321" width="1" height="7"/><rect x="663" y="321" width="1" height="8"/><rect x="667" y="329" width="1" height="20"/><rect x="671" y="342" width="1" height="8"/><rect x="674" y="344" width="1" height="5"/><rect x="678" y="354" width="1" height="2"/><rect x="681" y="213" width="1" height="74"/><rect x="685" y="216" width="1" height="18"/><rect x="689" y="224" width="1" height="11"/><rect x="692" y="219" width="1" height="4"/><rect x="696" y="215" width="1" height="3"/><rect x="700" y="205" width="1" height="11"/><rect x="703" y="205" width="1" height="30"/><rect x="707" y="32" width="1" height="42"/><rect x="710" y="32" width="1" height="1"/><rect x="714" y="32" width="1" height="6"/><rect x="718" y="38" width="1" height="32"/></g>
<rect x="2" y="71" width="798" height="1" fill="#485a63"/>
<polygon points="799,71.5 806.5,63 858,63 858,80 806.5,80" fill="#45565f" shape-rendering="auto"/>
</svg>
<div class="hdr" style="left:20px;top:11px;font-size:11.5px;font-weight:bold;color:#e2e4e6;line-height:16px;letter-spacing:-0.05px;-webkit-text-stroke:0.2px #e2e4e6">NET.US</div>
<div class="hdr" style="left:64px;top:14px;font-size:8.5px;color:#8d9ca7;line-height:12px;letter-spacing:0.1px;-webkit-text-stroke:0.3px #8d9ca7">Akcie</div>
<svg class="hdr" style="left:93px;top:15px" width="8" height="5"><polygon points="0,0 8,0 4,4.5" fill="#d8dadc"/></svg>
<svg class="hdr" style="left:140px;top:15px" width="16" height="10" viewBox="140 15 16 10"><path d="M141.9 16.9h1.7v2.9h2.8v-2.9h1.7v6.9h-1.7v-2.7h-2.8v2.7h-1.7z M151.5 16.9h1.7v6.9h-1.7v-4.9l-1.9 0.9v-1.4z" fill="#e0e2e4"/></svg>
<svg class="hdr" style="left:169px;top:17px" width="8" height="5"><polygon points="0,0 8,0 4,4.5" fill="#d8dadc"/></svg>
<div class="pl" style="top:48px">213.61</div><div class="pl" style="top:86px">208.53</div><div class="pl" style="top:124px">203.45</div><div class="pl" style="top:161px">198.37</div><div class="pl" style="top:199px">193.28</div><div class="pl" style="top:237px">188.20</div><div class="pl" style="top:274px">183.12</div><div class="pl" style="top:312px">178.04</div><div class="pl" style="top:350px">172.96</div><div class="pl" style="top:382px">167.87</div>
<div class="pl cur" style="top:64px">211.50</div>
<div class="tl" style="left:5px">12.12.2025</div><div class="tl" style="left:73px">20:00</div><div class="tl" style="left:134px">19.12</div><div class="tl" style="left:170px">21:00</div><div class="tl" style="left:264px">30.12</div><div class="tl" style="left:300px">18:00</div><div class="tl" style="left:394px">07.01</div><div class="tl" style="left:430px">19:00</div><div class="tl" style="left:524px">14.01</div><div class="tl" style="left:560px">20:00</div><div class="tl" style="left:654px">22.01</div><div class="tl" style="left:690px">21:00</div><div class="tl" style="left:783px">28.01</div><div class="tl" style="left:819px">12:00</div>
<div class="hdr" style="left:745px;top:367px;font-size:14px;letter-spacing:0.6px;line-height:16px;color:#c4c7cb;-webkit-text-stroke:0.3px #c4c7cb"><span style="color:#f39512;-webkit-text-stroke:0.3px #f39512">46</span>m <span style="color:#f39512;-webkit-text-stroke:0.3px #f39512">14</span>s</div>
</body></html>
